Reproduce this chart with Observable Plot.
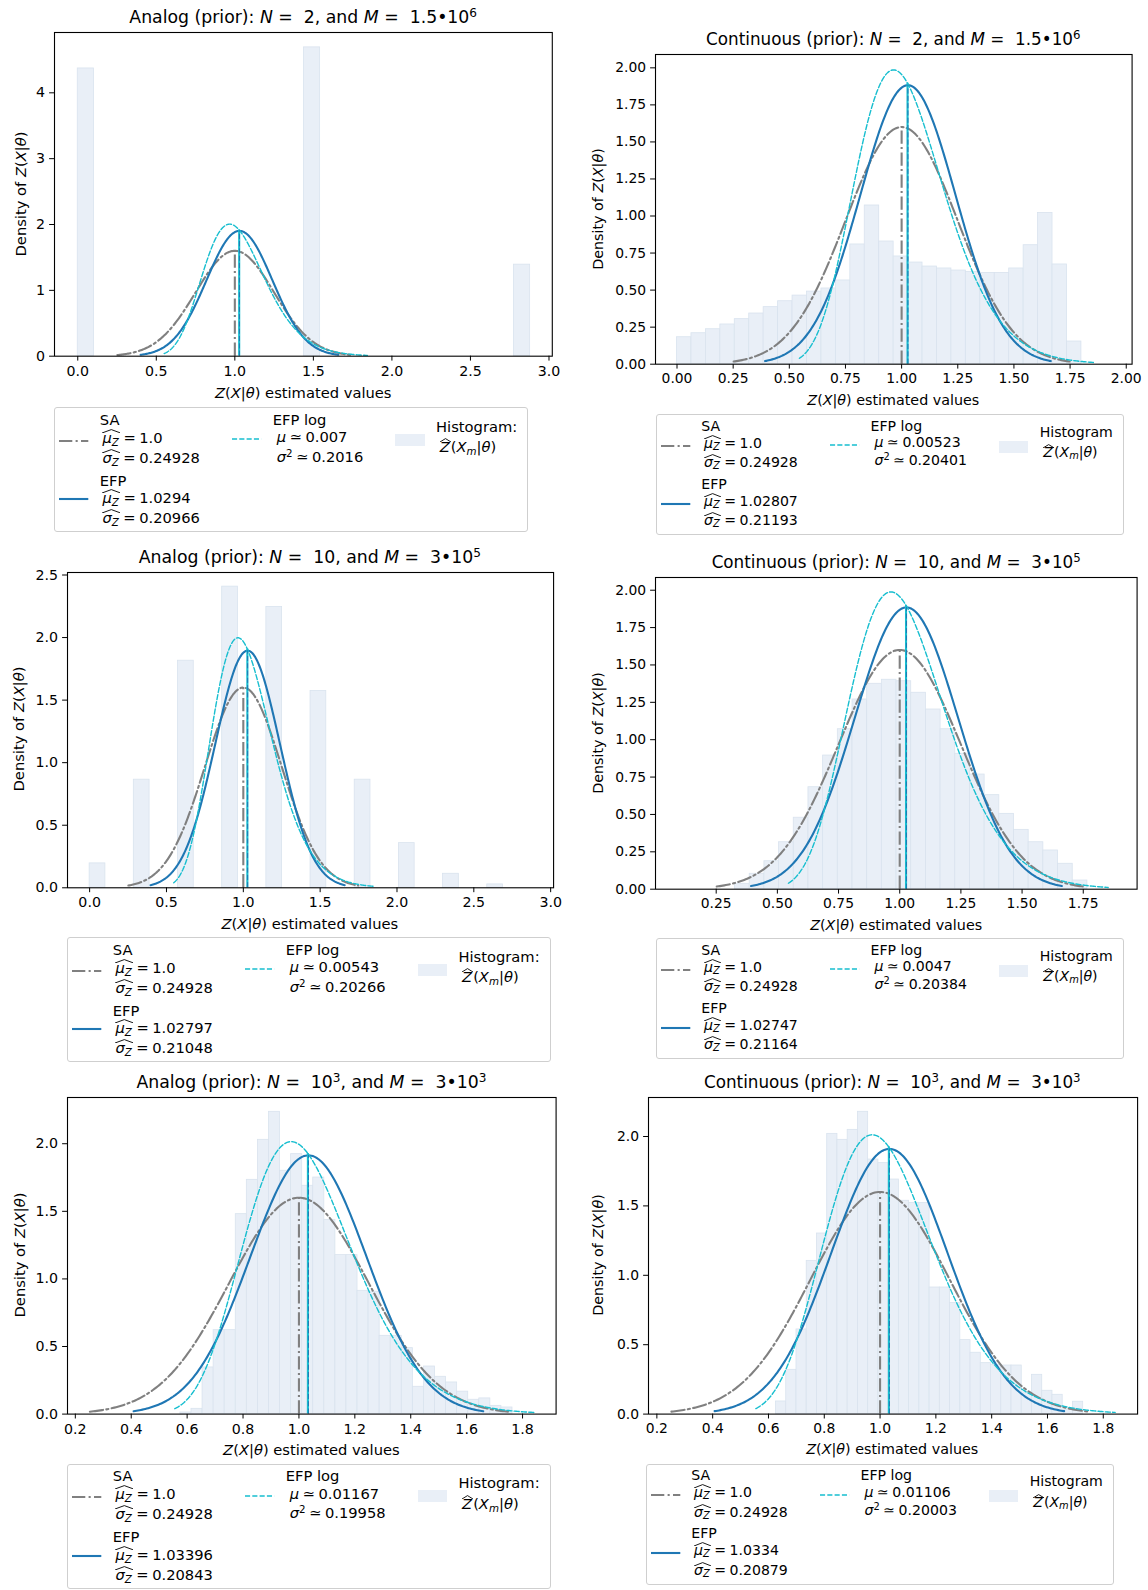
<!DOCTYPE html>
<html><head><meta charset="utf-8">
<script src="https://cdn.jsdelivr.net/npm/d3@7"></script>
<script src="https://cdn.jsdelivr.net/npm/@observablehq/plot@0.6"></script>
<style>
body{margin:0;background:#fff;font-family:"DejaVu Sans",sans-serif;color:#000}
#fig{position:relative;width:1148px;height:1590px;overflow:hidden;background:#fff}
.title{position:absolute;white-space:nowrap;transform:translate(-50%,-50%)}
.alab{position:absolute;white-space:nowrap;transform:translate(-50%,-50%)}
.ylab{position:absolute;white-space:nowrap;transform:translate(-50%,-50%) rotate(-90deg)}
sup{font-size:0.7em;vertical-align:0.5em;line-height:0}
.sub{font-size:0.7em;vertical-align:-0.25em;line-height:0}
.hat{position:relative;display:inline-block;padding-right:1px}
.hat::before{content:"";position:absolute;left:0;right:0;top:0px;height:4px;
background:url("data:image/svg+xml;utf8,<svg xmlns='http://www.w3.org/2000/svg' viewBox='0 0 10 4' preserveAspectRatio='none'><polyline points='0,4 5,0.6 10,4' fill='none' stroke='black' stroke-width='0.9' vector-effect='non-scaling-stroke'/></svg>") no-repeat;background-size:100% 100%}
.leg{position:absolute;display:flex;box-sizing:border-box;border:1px solid #cfcfcf;border-radius:3px;padding-left:4px;background:#fff}
.lcol{display:flex}
.hnd{position:relative;width:29.3px;margin-right:11.5px}
.txt{position:relative}
.ln{height:17px;line-height:17px;white-space:pre}
.eq{margin:0 3.5px}
</style></head>
<body><div id="fig"></div>
<script>
// ---------------- data ----------------
const kinds = ["Analog", "Continuous", "Analog", "Continuous", "Analog", "Continuous"];
const nBase = ["2", "2", "10", "10", "10", "10"];
const nExp  = ["", "", "", "", "3", "3"];
const mBase = ["1.5•10", "1.5•10", "3•10", "3•10", "3•10", "3•10"];
const mExp  = ["6", "6", "5", "5", "3", "3"];

const saMu       = [1.0, 1.0, 1.0, 1.0, 1.0, 1.0];
const saMuText   = ["1.0", "1.0", "1.0", "1.0", "1.0", "1.0"];
const saSigma    = [0.24928, 0.24928, 0.24928, 0.24928, 0.24928, 0.24928];
const efpMu      = [1.0294, 1.02807, 1.02797, 1.02747, 1.03396, 1.0334];
const efpSigma   = [0.20966, 0.21193, 0.21048, 0.21164, 0.20843, 0.20879];
const logMu      = [0.007, 0.00523, 0.00543, 0.0047, 0.01167, 0.01106];
const logSigma   = [0.2016, 0.20401, 0.20266, 0.20384, 0.19958, 0.20003];
const histLabel  = ["Histogram:", "Histogram", "Histogram:", "Histogram", "Histogram:", "Histogram"];

// histogram bars: left edges (explicit or start+i*width), widths, densities
const histTL_left = [0, 1.44, 2.777];
const histTL_h    = [4.37, 4.69, 1.39];
const histTL_w    = 0.103;

const histTR_start = 0, histTR_w = 0.0643;
const histTR_h = [0.182, 0.209, 0.236, 0.268, 0.304, 0.342, 0.385, 0.425, 0.463, 0.490, 0.511, 0.565, 0.808, 1.071,
                  0.828, 0.727, 0.686, 0.659, 0.646, 0.632, 0.623, 0.616, 0.616, 0.646, 0.803, 1.021, 0.673, 0.153];

const histML_left = [0, 0.2875, 0.575, 0.8625, 1.15, 1.4375, 1.725, 2.0125, 2.3, 2.5875];
const histML_h    = [0.195, 0.864, 1.815, 2.407, 2.244, 1.573, 0.864, 0.357, 0.112, 0.027];
const histML_w    = 0.1025;

const histMR_start = 0.327, histMR_w = 0.06;
const histMR_h = [0.036, 0.103, 0.187, 0.314, 0.478, 0.682, 0.894, 1.070, 1.269, 1.374, 1.401, 1.391, 1.314, 1.202,
                  1.070, 0.906, 0.767, 0.629, 0.504, 0.397, 0.314, 0.259, 0.170, 0.058];

const histBL_start = 0.576, histBL_w = 0.0396;
const histBL_h = [0.012, 0.039, 0.345, 0.621, 0.621, 1.479, 1.733, 2.029, 2.236, 1.80, 1.923, 1.689, 1.750, 1.437,
                  1.176, 1.176, 0.912, 0.905, 0.579, 0.579, 0.488, 0.202, 0.352, 0.276, 0.234, 0.166, 0.106, 0.116, 0.061, 0.049];

const histBR_start = 0.627, histBR_w = 0.0367;
const histBR_h = [0.091, 0.319, 0.610, 1.104, 1.301, 2.019, 1.976, 2.048, 2.178, 1.834, 1.808, 1.690, 1.537, 1.522,
                  1.520, 0.912, 0.912, 0.800, 0.533, 0.442, 0.367, 0.355, 0.350, 0.350, 0.156, 0.283, 0.168, 0.139, 0.029, 0.089];

const xTicks = [
  [0, 0.5, 1, 1.5, 2, 2.5, 3],
  [0, 0.25, 0.5, 0.75, 1, 1.25, 1.5, 1.75, 2],
  [0, 0.5, 1, 1.5, 2, 2.5, 3],
  [0.25, 0.5, 0.75, 1, 1.25, 1.5, 1.75],
  [0.2, 0.4, 0.6, 0.8, 1.0, 1.2, 1.4, 1.6, 1.8],
  [0.2, 0.4, 0.6, 0.8, 1.0, 1.2, 1.4, 1.6, 1.8]
];
const yTicks = [
  [0, 1, 2, 3, 4],
  [0, 0.25, 0.5, 0.75, 1, 1.25, 1.5, 1.75, 2],
  [0, 0.5, 1, 1.5, 2, 2.5],
  [0, 0.25, 0.5, 0.75, 1, 1.25, 1.5, 1.75, 2],
  [0, 0.5, 1, 1.5, 2],
  [0, 0.5, 1, 1.5, 2]
];
const xFmt = [".1f", ".2f", ".1f", ".2f", ".1f", ".1f"];
const yFmt = ["d", ".2f", ".1f", ".2f", ".1f", ".1f"];
const xDom = [[-0.148, 3.021], [-0.0957, 2.026], [-0.144, 3.019], [0.002, 1.97], [0.172, 1.92], [0.170, 1.923]];
const yDom = [[0, 4.916], [0, 2.09], [0, 2.52], [0, 2.085], [0, 2.342], [0, 2.281]];

const yLabelHTML = 'Density of <i>Z</i>(<i>X</i>|<i>θ</i>)';
const xLabelHTML = '<i>Z</i>(<i>X</i>|<i>θ</i>) estimated values';

// ---------------- layout (pixels) ----------------
const layout = [
  {L: 54.3, R: 552.1, T: 32,     B: 355.7,  legL: 54,    legT: 407,  ylabX: 19.5},
  {L: 655,  R: 1131.6, T: 54,    B: 363.7,  legL: 655.5, legT: 414,  ylabX: 598},
  {L: 66.8, R: 552.9, T: 571.7,  B: 887,    legL: 67,    legT: 937,  ylabX: 18},
  {L: 655.4, R: 1137, T: 577,    B: 888.7,  legL: 655.5, legT: 938,  ylabX: 598},
  {L: 67.1, R: 555.7, T: 1096.7, B: 1413.3, legL: 67,    legT: 1463.5, ylabX: 18.6},
  {L: 647.7, R: 1136.8, T: 1096.7, B: 1413.3, legL: 645.5, legT: 1463.5, ylabX: 598}
];
// typographic variants (analog panels were reproduced slightly larger)
const styleA = {tick: 14.2, label: 14.7, title: 17.3, leg: 14.7, legH: 125, gap: 32, rpad: 10,
  c1: [12.2, 30.4, 50.2, 73.5, 90.8, 111], c2: [12.2, 29.6, 49.5], c3: [19.3, 39.8],
  hGray: 33.5, hBlue: 92.3, hCyan: 32.4};
const styleC = {tick: 13.89, label: 14.3, title: 16.8, leg: 14.1, legH: 121, gap: 32, rpad: 10,
  c1: [12.2, 29.4, 48.7, 70.5, 87.5, 106.8], c2: [12.2, 28.6, 47], c3: [18.3, 38.7],
  hGray: 31.8, hBlue: 89.5, hCyan: 31.4};

const C_GRAY = "#808080", C_BLUE = "#1f77b4", C_CYAN = "#17becf";
const HIST_FILL = "#e9eff7", HIST_EDGE = "#d9e3ee";
const DASHDOT = "13.3,3.3,2.1,3.3", DASHED = "5.1,2.2";

function bars(i) {
  if (i === 0) return histTL_left.map((x, k) => ({x1: x, x2: x + histTL_w, h: histTL_h[k]}));
  if (i === 2) return histML_left.map((x, k) => ({x1: x, x2: x + histML_w, h: histML_h[k]}));
  const [s, w, hs] = i === 1 ? [histTR_start, histTR_w, histTR_h]
                   : i === 3 ? [histMR_start, histMR_w, histMR_h]
                   : i === 4 ? [histBL_start, histBL_w, histBL_h]
                   : [histBR_start, histBR_w, histBR_h];
  return hs.map((h, k) => ({x1: s + k * w, x2: s + (k + 1) * w, h}));
}

const SQ2PI = Math.sqrt(2 * Math.PI);
const pdfN = (x, m, s) => Math.exp(-0.5 * ((x - m) / s) ** 2) / (s * SQ2PI);
const pdfLN = (x, m, s) => Math.exp(-0.5 * ((Math.log(x) - m) / s) ** 2) / (x * s * SQ2PI);
function curve(lo, hi, f) {
  const n = 240;
  return d3.range(n + 1).map(k => { const x = lo + (hi - lo) * k / n; return {x, y: f(x)}; });
}

const fig = document.getElementById("fig");
const mL = 60, mR = 30, mT = 10, mB = 32;

function handleSVG(cy, stroke, sw, dash) {
  return `<svg width="29.3" height="8" style="position:absolute;left:0;top:${cy - 1 - 4}px;overflow:visible"><line x1="0" y1="4" x2="29.3" y2="4" stroke="${stroke}" stroke-width="${sw}" ${dash ? `stroke-dasharray="${dash}"` : ""}/></svg>`;
}
function hatZ(sym) { return `<span class="hat"><i>${sym}</i><span class="sub"><i>Z</i></span></span>`; }
function lines(arr, centers, pads) {
  let prev = 0;
  return arr.map((t, k) => {
    const top = centers[k] - 8.5 - 1;
    const m = top - prev; prev = top + 17;
    return `<div class="ln" style="margin-top:${m.toFixed(2)}px;padding-left:${pads[k]}px">${t}</div>`;
  }).join("");
}

for (let i = 0; i < 6; i++) {
  const g = layout[i];
  const st = kinds[i] === "Analog" ? styleA : styleC;
  const fw = g.R - g.L, fh = g.B - g.T;
  const sa = curve(saMu[i] - 3 * saSigma[i], saMu[i] + 3 * saSigma[i], x => pdfN(x, saMu[i], saSigma[i]));
  const efp = curve(efpMu[i] - 3 * efpSigma[i], efpMu[i] + 3 * efpSigma[i], x => pdfN(x, efpMu[i], efpSigma[i]));
  const lg = curve(Math.exp(logMu[i] - 3 * logSigma[i]), Math.exp(logMu[i] + 3 * logSigma[i]), x => pdfLN(x, logMu[i], logSigma[i]));
  const logMean = Math.exp(logMu[i] + logSigma[i] ** 2 / 2);

  const svg = Plot.plot({
    width: fw + mL + mR, height: fh + mT + mB,
    marginLeft: mL, marginRight: mR, marginTop: mT, marginBottom: mB,
    style: {fontFamily: "DejaVu Sans", fontSize: st.tick + "px", color: "#000", background: "transparent", overflow: "visible"},
    x: {domain: xDom[i], ticks: xTicks[i], tickFormat: d3.format(xFmt[i]), label: null, tickSize: 4.9, tickPadding: 4.5},
    y: {domain: yDom[i], ticks: yTicks[i], tickFormat: d3.format(yFmt[i]), label: null, tickSize: 4.9, tickPadding: 4.5},
    marks: [
      Plot.rect(bars(i), {x1: "x1", x2: "x2", y1: () => 0, y2: "h", fill: HIST_FILL, stroke: HIST_EDGE, strokeWidth: 0.8}),
      Plot.line(sa, {x: "x", y: "y", stroke: C_GRAY, strokeWidth: 2.1, strokeDasharray: DASHDOT}),
      Plot.line(efp, {x: "x", y: "y", stroke: C_BLUE, strokeWidth: 2.1}),
      Plot.line(lg, {x: "x", y: "y", stroke: C_CYAN, strokeWidth: 1.4, strokeDasharray: DASHED}),
      Plot.ruleX([{x: saMu[i], y2: pdfN(saMu[i], saMu[i], saSigma[i])}], {x: "x", y1: () => 0, y2: "y2", stroke: C_GRAY, strokeWidth: 2.1, strokeDasharray: DASHDOT}),
      Plot.ruleX([{x: logMean, y2: pdfLN(logMean, logMu[i], logSigma[i])}], {x: "x", y1: () => 0, y2: "y2", stroke: C_CYAN, strokeWidth: 2.1}),
      Plot.ruleX([{x: efpMu[i], y2: pdfN(efpMu[i], efpMu[i], efpSigma[i])}], {x: "x", y1: () => 0, y2: "y2", stroke: C_BLUE, strokeWidth: 1, strokeDasharray: DASHED}),
      Plot.frame({stroke: "#000", strokeWidth: 1.1})
    ]
  });
  svg.style.position = "absolute";
  svg.style.left = (g.L - mL) + "px";
  svg.style.top = (g.T - mT) + "px";
  svg.style.maxWidth = "none";
  fig.appendChild(svg);

  const cx = (g.L + g.R) / 2;
  const title = document.createElement("div");
  title.className = "title";
  title.style.fontSize = st.title + "px";
  title.style.left = cx + "px";
  title.style.top = (g.T - 14.8) + "px";
  const nTxt = nExp[i] ? `${nBase[i]}<sup>${nExp[i]}</sup>` : nBase[i];
  title.innerHTML = `${kinds[i]} (prior): <i>N</i> =&nbsp; ${nTxt}, and <i>M</i> =&nbsp; ${mBase[i]}<sup>${mExp[i]}</sup>`;
  fig.appendChild(title);

  const xl = document.createElement("div");
  xl.className = "alab";
  xl.style.fontSize = st.label + "px";
  xl.style.left = cx + "px";
  xl.style.top = (g.B + 36) + "px";
  xl.innerHTML = xLabelHTML;
  fig.appendChild(xl);

  const yl = document.createElement("div");
  yl.className = "ylab";
  yl.style.fontSize = st.label + "px";
  yl.style.left = g.ylabX + "px";
  yl.style.top = ((g.T + g.B) / 2) + "px";
  yl.innerHTML = yLabelHTML;
  fig.appendChild(yl);

  const eq = '<span class="eq">=</span>';
  const sim = '<span class="eq">≃</span>';
  const col1 = lines([
    "SA",
    hatZ("μ") + eq + saMuText[i],
    hatZ("σ") + eq + saSigma[i],
    "EFP",
    hatZ("μ") + eq + efpMu[i],
    hatZ("σ") + eq + efpSigma[i]
  ], st.c1, [0, 2.7, 2.7, 0, 2.7, 2.7]);
  const col2 = lines([
    "EFP log",
    "<i>μ</i>" + sim + logMu[i],
    "<i>σ</i><sup>2</sup>" + sim + logSigma[i]
  ], st.c2, [0, 4, 4]);
  const col3 = lines([
    histLabel[i],
    '<span class="hat"><i>Z</i></span>(<i>X</i><span class="sub"><i>m</i></span>|<i>θ</i>)'
  ], st.c3, [0, 3.6]);

  const leg = document.createElement("div");
  leg.className = "leg";
  leg.style.left = g.legL + "px";
  leg.style.top = g.legT + "px";
  leg.style.height = st.legH + "px";
  leg.style.fontSize = st.leg + "px";
  leg.style.paddingRight = st.rpad + "px";
  leg.innerHTML =
    `<div class="lcol"><div class="hnd">${handleSVG(st.hGray, C_GRAY, 2.1, DASHDOT)}${handleSVG(st.hBlue, C_BLUE, 2.1, "")}</div><div class="txt">${col1}</div></div>` +
    `<div class="lcol" style="margin-left:${st.gap}px"><div class="hnd">${handleSVG(st.hCyan, C_CYAN, 1.4, DASHED)}</div><div class="txt">${col2}</div></div>` +
    `<div class="lcol" style="margin-left:${st.gap}px"><div class="hnd"><div style="position:absolute;left:0;top:25.5px;width:29.3px;height:12px;background:${HIST_FILL}"></div></div><div class="txt">${col3}</div></div>`;
  fig.appendChild(leg);
}
</script>
</body></html>
